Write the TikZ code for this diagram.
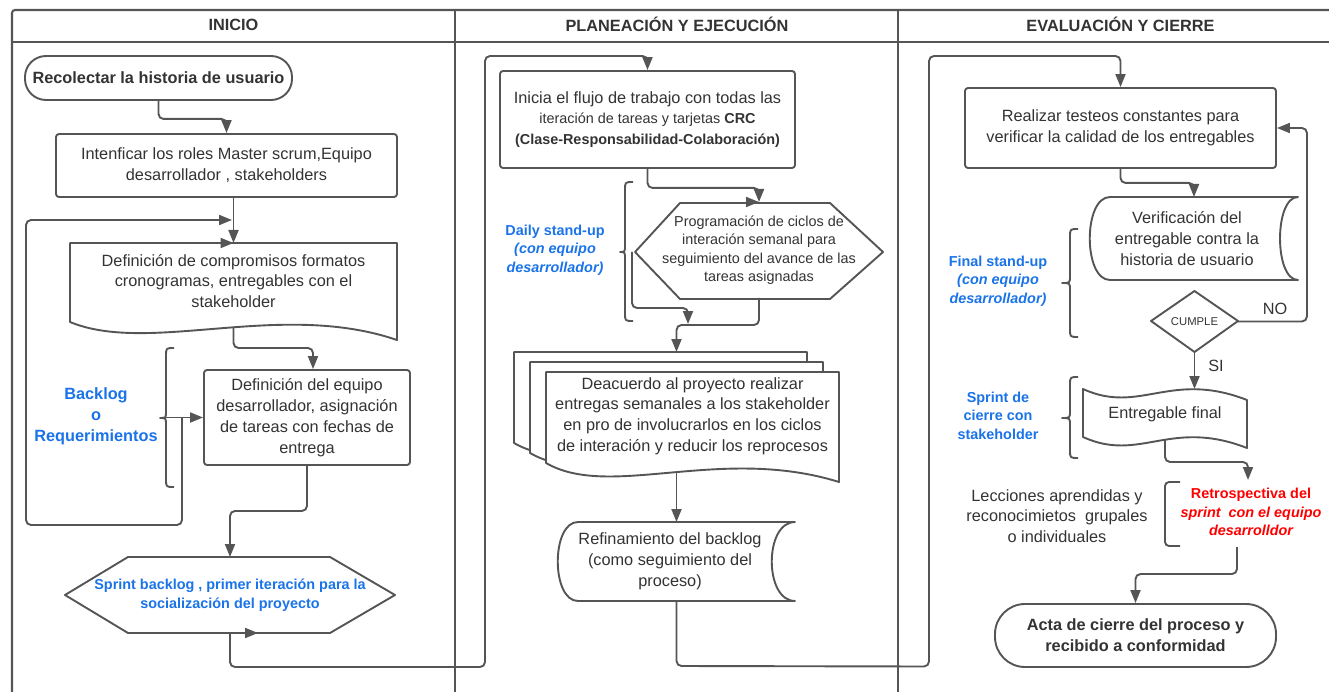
\documentclass[tikz,border=0pt]{standalone}
\usepackage{fontspec}
\setmainfont{Liberation Sans}
\usetikzlibrary{arrows.meta,calc}
\definecolor{lc}{HTML}{555555}
\definecolor{tc}{HTML}{333333}
\definecolor{bl}{HTML}{1A73E8}
\definecolor{rd}{HTML}{FF0000}
\newcommand\mainsz{\fontsize{16.3}{20.8}\selectfont}
\newcommand\smallsz{\fontsize{14.4}{18.5}\selectfont}
\newcommand\tinysz{\fontsize{11.3}{13}\selectfont}
% curly brace: vertical x, tip x, top y, tip y, bottom y
\newcommand\curlybrace[5]{\draw[ln] (#1+8,#3) .. controls (#1,#3) .. (#1,#3+8) -- (#1,#4-7) .. controls (#1,#4) .. (#2,#4) .. controls (#1,#4) .. (#1,#4+7) -- (#1,#5-8) .. controls (#1,#5) .. (#1+8,#5);}

\begin{document}
\begin{tikzpicture}[x=1pt,y=-1pt,
  ln/.style={draw=lc,line width=1.9pt,line join=round},
  arr/.style={draw=lc,line width=1.9pt,rounded corners=5pt,-{Triangle[length=13pt,width=10pt]}},
  box/.style={ln,rounded corners=3pt,fill=white,inner sep=0pt,text=tc,font=\mainsz,align=center},
  frame/.style={inner sep=0pt,outer sep=0pt,text=tc,font=\mainsz,align=center},
  txt/.style={inner sep=0pt,text=tc,font=\mainsz,align=center},
  shp/.style={ln,fill=white},
  lbl/.style={inner sep=0pt,text=bl,font=\bfseries\smallsz,align=center},
  lane/.style={draw=lc,line width=2.1pt},
  head/.style={inner sep=0pt,text=tc,font=\bfseries\mainsz},
]
\useasboundingbox (0,0) rectangle (1329,692);
\clip (0,0) rectangle (1329,692);

% swimlanes
\draw[lane,rounded corners=3pt] (12,700) -- (12,10) -- (1340,10);
\draw[lane] (12,42) -- (1340,42);
\draw[lane] (455,10) -- (455,700);
\draw[lane] (898,10) -- (898,700);
\node[head] (h1) at (233.5,24.5) {INICIO};
\node[head] (h2) at (677,24.5) {PLANEACIÓN Y EJECUCIÓN};
\node[head] (h3) at (1120.5,24.5) {EVALUACIÓN Y CIERRE};

% ---------- INICIO ----------
\node[box,rounded corners=21pt,minimum width=267pt,minimum height=44pt,font=\bfseries\mainsz] (rec) at (158.5,78) {Recolectar la historia de usuario};
\node[box,minimum width=341pt,minimum height=63pt] (roles) at (226.5,165.5) {Intenficar los roles Master scrum,Equipo\\desarrollador , stakeholders};

\draw[shp] (70,243) -- (397,243) -- (397,340) .. controls (280,300) and (150,355) .. (70,322) -- cycle;
\node[frame,minimum width=327pt,minimum height=97pt,label={[txt,yshift=10.5pt]center:Definición de compromisos formatos\\cronogramas, entregables con el\\stakeholder}] (comp) at (233.5,291.5) {};

\node[box,minimum width=206pt,minimum height=95pt] (equipo) at (307,417.5) {Definición del equipo\\desarrollador, asignación\\de tareas con fechas de\\entrega};

\draw[shp] (65,595) -- (128,557) -- (330,557) -- (395,595) -- (330,633) -- (128,633) -- cycle;
\node[frame,minimum width=330pt,minimum height=76pt,text=bl,font=\bfseries\smallsz] (sprint) at (230,595) {Sprint backlog , primer iteración para la\\socialización del proyecto};

\node[lbl,font=\bfseries\mainsz] (backlog) at (96,416) {Backlog\\o\\Requerimientos};
\curlybrace{166}{160}{348}{418}{487}
\coordinate (b1) at (161,417.5);
\coordinate (j1) at (182,417.5);
\coordinate (l1e) at (232,220);

\draw[arr] (rec.south) -- ++(0,18) -| (roles.north);
\draw[arr] (comp.north |- roles.south) -- (comp.north);
\draw[arr] (j1) -- (182,525) -- (26,525) -- (26,220) -- (l1e);
\draw[arr] ($(comp.north)+(-13,0)$) -- (comp.north);
\draw[arr] ($(comp.south)+(0,-13)$) -- ++(0,21) -| ($(equipo.north)+(6,0)$);
\draw[arr] (b1) -- (equipo.west);
\draw[arr] (equipo.south) -- ++(0,45) -| (sprint.north);
\draw[arr] ($(sprint.south)+(15,0)$) -- ($(sprint.south)+(28,0)$);

% ---------- PLANEACION Y EJECUCION ----------
\node[box,minimum width=295pt,minimum height=97pt] (inicia) at (647.5,119.5) {Inicia el flujo de trabajo con todas las\\{\smallsz iteración de tareas y tarjetas \textbf{CRC}}\\{\smallsz\bfseries (Clase-Responsabilidad-Colaboración)}};

\draw[shp] (635,252) -- (680,203) -- (830,203) -- (883,252) -- (830,299) -- (680,299) -- cycle;
\node[frame,minimum width=248pt,minimum height=96pt,font=\smallsz] (prog) at (759,250) {Programación de ciclos de\\interación semanal para\\seguimiento del avance de las\\tareas asignadas};

\draw[shp] (514,352) -- (807,352) -- (807,462) .. controls (688,425) and (578,480) .. (514,443) -- cycle;
\draw[shp] (530,362) -- (823,362) -- (823,472) .. controls (704,435) and (594,490) .. (530,453) -- cycle;
\draw[shp] (546,372) -- (839,372) -- (839,482) .. controls (720,445) and (610,500) .. (546,463) -- cycle;
\node[frame,minimum width=293pt,minimum height=110pt,label={[txt,yshift=11pt]center:Deacuerdo al proyecto realizar\\entregas semanales a los stakeholder\\en pro de involucrarlos en los ciclos\\de interación y reducir los reprocesos}] (entregas) at (692.5,427) {};

\draw[shp] (578,522) -- (795,522) .. controls (764,522) and (764,601) .. (795,601) -- (578,601) .. controls (551,601) and (551,522) .. (578,522) -- cycle;
\node[frame,minimum width=237pt,minimum height=79pt,label={[txt,xshift=-6.5pt]center:Refinamiento del backlog\\(como seguimiento del\\proceso)}] (refin) at (676.5,561.5) {};

\node[lbl] (daily) at (555,250) {Daily stand-up\\\textit{(con equipo}\\\textit{desarrollador)}};
\curlybrace{625}{620}{182}{252}{321}

\draw[arr] (sprint.south) -- ++(0,34) -- (485,667) -- (485,56) -| (inicia.north);
\draw[arr] (inicia.south) -- ++(0,19) -| (prog.north);
\draw[arr] ($(prog.north)+(-13,0)$) -- (prog.north);
\draw[arr] (632,252) -- (632,308) -- (688,308) -- (688,324);
\draw[arr] (prog.south) -- ++(0,27) -| ($(entregas.north)+(-16,-20)$);
\draw[arr] ($(refin.north |- entregas.south)+(0,-9)$) -- (refin.north);

% ---------- EVALUACION Y CIERRE ----------
\node[box,minimum width=311pt,minimum height=80pt] (testeos) at (1120.5,128) {Realizar testeos constantes para\\verificar la calidad de los entregables};

\draw[shp] (1110,197) -- (1298,197) .. controls (1274,197) and (1274,280) .. (1298,280) -- (1110,280) .. controls (1083,280) and (1083,197) .. (1110,197) -- cycle;
\node[frame,minimum width=208pt,minimum height=83pt,label={[txt,xshift=-7pt]center:Verificación del\\entregable contra la\\historia de usuario}] (verif) at (1194,238.5) {};

\draw[shp] (1151,321) -- (1194.5,291) -- (1238,321) -- (1194.5,352) -- cycle;
\node[frame,minimum width=87pt,minimum height=61pt,font=\tinysz] (cumple) at (1194.5,321.5) {CUMPLE};

\draw[shp] (1083,389) .. controls (1140,415) and (1170,370) .. (1247,400) -- (1247,448) .. controls (1170,418) and (1140,463) .. (1083,437) -- cycle;
\node[frame,minimum width=164pt,minimum height=59pt,label={[txt,yshift=4pt]center:Entregable final}] (final) at (1165,418.5) {};

\draw[ln,rounded corners=4pt] (1180,482) -- (1165,482) -- (1165,546) -- (1180,546);
\node[frame,minimum width=164pt,minimum height=68pt,label={[txt,text=rd,font=\smallsz,xshift=4pt,yshift=2pt]center:{\bfseries Retrospectiva del}\\{\bfseries\itshape sprint~ con el equipo}\\{\bfseries\itshape desarrolldor}}] (retro) at (1247,514) {};

\node[txt] (lecc) at (1057,516) {Lecciones aprendidas y\\reconocimietos~ grupales\\o individuales};

\node[box,rounded corners=30pt,minimum width=281pt,minimum height=63pt,font=\bfseries\mainsz] (acta) at (1135.5,635.5) {Acta de cierre del proceso y\\recibido a conformidad};

\node[lbl] (finalsu) at (998,281) {Final stand-up\\\textit{(con equipo}\\\textit{desarrollador)}};
\curlybrace{1070}{1062}{229}{283}{337}
\node[lbl] (sprintc) at (998,415.5) {Sprint de\\cierre con\\stakeholder};
\curlybrace{1070}{1062}{377}{418}{458}

\node[txt] (nolbl) at (1275,309) {NO};
\node[txt] (silbl) at (1216,366) {SI};

\draw[arr] (refin.south) -- ++(0,65) -- (929,666.5) -- (929,56) -| (testeos.north);
\draw[arr] (testeos.south) -- ++(0,14) -| (verif.north);
\draw[arr] (cumple.east) -| ($(testeos.east)+(30,0)$) -- (testeos.east);
\draw[arr] (cumple.south) -- (cumple.south |- final.north);
\draw[arr] ($(final.south)+(0,-8)$) -- ++(0,22) -| ($(retro.north)+(1,0)$);
\draw[arr] ($(retro.south)+(-10,-1)$) -- ++(0,27) -| (acta.north);
\end{tikzpicture}
\end{document}
